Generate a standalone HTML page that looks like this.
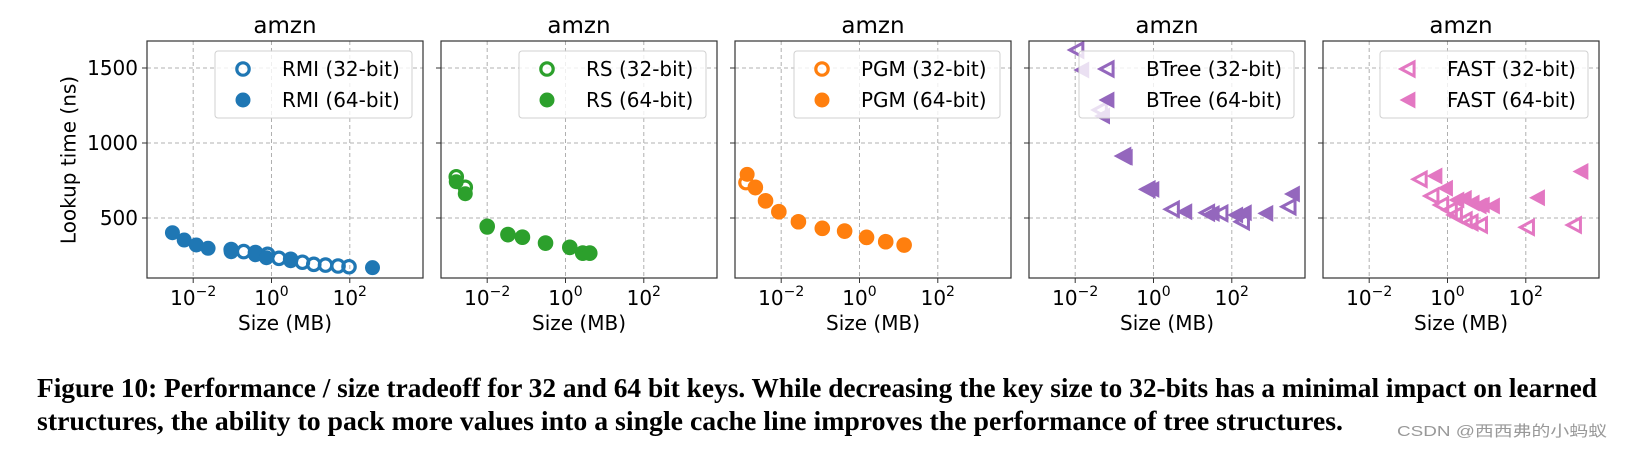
<!DOCTYPE html>
<html><head><meta charset="utf-8"><style>
html,body{margin:0;padding:0;background:#fff;}
svg{display:block;}
text{font-family:"DejaVu Sans","Liberation Sans",sans-serif;fill:#000;}
</style></head><body>
<svg id="fig" width="1625" height="450" viewBox="0 0 1625 450" xmlns="http://www.w3.org/2000/svg">
<g id="panels"></g>
<text x="70" y="160" font-size="20" text-anchor="middle" dominant-baseline="middle" transform="rotate(-90 70 160)">Lookup time (ns)</text>
<text x="37" y="397" font-weight="bold" font-size="27" textLength="1560" lengthAdjust="spacingAndGlyphs" style="font-family:'Liberation Serif',serif">Figure 10: Performance / size tradeoff for 32 and 64 bit keys. While decreasing the key size to 32-bits has a minimal impact on learned</text>
<text x="37" y="430" font-weight="bold" font-size="27" textLength="1306" lengthAdjust="spacingAndGlyphs" style="font-family:'Liberation Serif',serif">structures, the ability to pack more values into a single cache line improves the performance of tree structures.</text>
<text x="1397" y="436" font-size="15" textLength="210" lengthAdjust="spacingAndGlyphs" style="font-family:'Liberation Sans','Noto Sans CJK SC',sans-serif;fill:#999">CSDN @西西弗的小蚂蚁</text>
</svg>
<script>
const panelNames = ["RMI","RS","PGM","BTree","FAST"];
const panelColors = ["#1f77b4","#2ca02c","#ff7f0e","#9467bd","#e377c2"];
const xTicks = [-2,0,2];
const yTicks = [500,1000,1500];
// [log10(size MB), lookup ns]
const rmi32 = [[-1.03,290],[-0.71,276],[-0.41,270],[-0.1,258],[0.19,231],[0.49,225],[0.79,205],[1.08,191],[1.38,186],[1.70,180],[1.98,175]];
const rmi64 = [[-2.53,402],[-2.23,353],[-1.92,320],[-1.62,298],[-1.03,275],[-0.41,255],[-0.13,235],[0.49,215],[2.58,169]];
const rs32 = [[-2.79,775],[-2.56,705],[-2.0,445],[-1.47,390],[-1.10,372],[-0.51,333],[0.11,305],[0.44,266],[0.62,266]];
const rs64 = [[-2.79,742],[-2.56,662],[-2.0,438],[-1.47,387],[-1.10,371],[-0.51,331],[0.11,302],[0.44,264],[0.62,264]];
const pgm32 = [[-2.90,736],[-2.66,705],[-2.40,615],[-2.06,542],[-1.56,475],[-0.95,431],[-0.38,413],[0.18,371],[0.67,342],[1.14,320]];
const pgm64 = [[-2.87,791],[-2.66,700],[-2.40,612],[-2.06,540],[-1.56,473],[-0.95,430],[-0.38,411],[0.18,369],[0.67,340],[1.14,318]];
const btree32 = [[-1.96,1620],[-1.36,1220],[-0.76,913],[-0.14,691],[0.48,558],[1.38,535],[1.72,531],[2.27,475],[3.46,575]];
const btree64 = [[-1.83,1487],[-1.30,1180],[-0.72,905],[-0.04,691],[0.80,542],[1.50,530],[2.10,520],[2.32,535],[2.87,531],[3.55,660]];
const fast32 = [[-0.70,758],[-0.40,647],[-0.15,587],[0.07,553],[0.20,520],[0.45,487],[0.60,470],[0.84,453],[2.04,438],[3.24,453]];
const fast64 = [[-0.32,780],[-0.05,698],[0.24,620],[0.43,631],[0.63,600],[0.81,580],[0.89,587],[1.15,580],[2.30,635],[3.41,810]];
const series32 = [rmi32,rs32,pgm32,btree32,fast32];
const series64 = [rmi64,rs64,pgm64,btree64,fast64];
const legendLeft = [68,78,59,50,57];

const NS="http://www.w3.org/2000/svg";
const root=document.getElementById('panels');
const X0=147, PW=276, STEP=294, TOP=41, BOT=278;
const XMIN=-3.18, XMAX=3.87, YMIN=100, YMAX=1680;
function mk(t,a,p){const e=document.createElementNS(NS,t);for(const k in a)e.setAttribute(k,a[k]);(p||root).appendChild(e);return e;}
function marker(g,shape,filled,color,cx,cy){
  let e;
  if(shape==='circle'){
    e=filled?mk('circle',{cx:cx,cy:cy,r:7.5,fill:color},g):mk('circle',{cx:cx,cy:cy,r:6.2,fill:'none',stroke:color,'stroke-width':3.2},g);
  } else {
    const s=filled?8.5:7;
    const pts=`${cx-s},${cy} ${cx+s*0.87},${cy-s} ${cx+s*0.87},${cy+s}`;
    e=filled?mk('polygon',{points:pts,fill:color},g):mk('polygon',{points:pts,fill:'none',stroke:color,'stroke-width':3,'stroke-linejoin':'miter'},g);
  }
  return e;
}
for(let p=0;p<5;p++){
  const L=X0+p*STEP, R=L+PW;
  const xs=v=>L+(v-XMIN)/(XMAX-XMIN)*PW;
  const ys=v=>BOT-(v-YMIN)/(YMAX-YMIN)*(BOT-TOP);
  const g=mk('g',{});
  
  
  const t=mk('text',{x:(L+R)/2,y:33,'font-size':23,'text-anchor':'middle'},g);t.textContent='amzn';
  
  
  xTicks.forEach(v=>{
    const x=xs(v);
    mk('line',{x1:x,y1:TOP,x2:x,y2:BOT,stroke:'#b0b0b0','stroke-width':1,'stroke-dasharray':'4,3'},g);
    mk('line',{x1:x,y1:BOT,x2:x,y2:BOT+5,stroke:'#333','stroke-width':1},g);
    const tl=mk('text',{x:x,y:305,'font-size':20,'text-anchor':'middle'},g);
    tl.innerHTML='10<tspan dy="-9" font-size="14">'+(v<0?'\u2212'+(-v):v)+'</tspan>';
    
    
  });
  yTicks.forEach(v=>{
    const y=ys(v);
    mk('line',{x1:L,y1:y,x2:R,y2:y,stroke:'#b0b0b0','stroke-width':1,'stroke-dasharray':'4,3'},g);
    mk('line',{x1:L-5,y1:y,x2:L,y2:y,stroke:'#333','stroke-width':1},g);
    if(p===0){const yl=mk('text',{x:L-9,y:y+7,'font-size':20,'text-anchor':'end'},g);yl.textContent=v;
      
      }
  });
  const xl=mk('text',{x:(L+R)/2,y:330,'font-size':20,'text-anchor':'middle'},g);xl.textContent='Size (MB)';
  
  
  const shape=p<3?'circle':'tri';
  const c=panelColors[p];
  series32[p].forEach(d=>{const m=marker(g,shape,false,c,xs(d[0]),ys(d[1]));
    
    });
  series64[p].forEach(d=>{const m=marker(g,shape,true,c,xs(d[0]),ys(d[1]));
    
    });
  mk('rect',{x:L,y:TOP,width:PW,height:BOT-TOP,fill:'none',stroke:'#333','stroke-width':1.2},g);
  const lx=L+legendLeft[p], lw=265-legendLeft[p];
  const lg=mk('g',{},g);
  
  
  mk('rect',{x:lx,y:51,width:lw,height:67,rx:3,fill:'rgba(255,255,255,0.8)',stroke:'#d0d0d0','stroke-width':1},lg);
  [['32-bit',false,69],['64-bit',true,100]].forEach(([lab,f,y])=>{
    marker(lg,shape,f,c,lx+28,y);
    const tx=mk('text',{x:lx+67,y:y+7,'font-size':20},lg);tx.textContent=panelNames[p]+' ('+lab+')';
    
    
  });
}
</script>
</body></html>
